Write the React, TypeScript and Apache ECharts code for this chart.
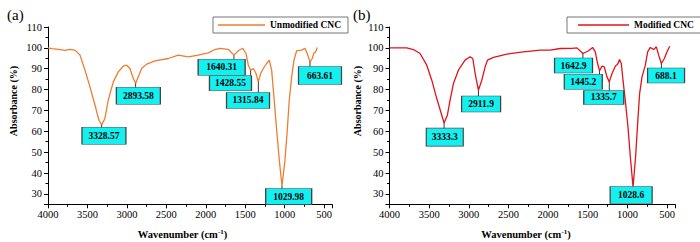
import React, { useEffect, useRef } from "react";
import * as echarts from "echarts";

const FONT = "Liberation Serif";

// Spectrum (a) Unmodified CNC
const wnA = [4000, 3950, 3869, 3785, 3721, 3658, 3594, 3531, 3468, 3404, 3354, 3320, 3278, 3236, 3172, 3109, 3046, 3003, 2961, 2919, 2889, 2856, 2813, 2749, 2644, 2475, 2349, 2222, 2095, 1968, 1883, 1820, 1715, 1643, 1588, 1532, 1490, 1461, 1431, 1398, 1363, 1334, 1304, 1271, 1229, 1195, 1165, 1136, 1101, 1068, 1034, 996, 967, 942, 911, 882, 848, 785, 743, 714, 679, 650, 629, 607, 587];
const absA = [100, 99.6, 99.3, 98.8, 99.3, 98.9, 96.5, 89.3, 81.3, 72.5, 65.3, 63, 66.2, 75, 83.7, 88.5, 91.2, 91.7, 90.1, 85.3, 82.9, 86.1, 90.1, 92.2, 93.8, 94.9, 96.5, 95.7, 96.5, 97.6, 99.2, 99.8, 99.3, 96.5, 98.6, 99.8, 97.3, 91.7, 89.3, 90.1, 87.7, 83.7, 87.7, 90.1, 92.5, 94.1, 89.3, 76.5, 60.5, 46.2, 33.8, 46.2, 60.5, 74.9, 86.1, 94.1, 98.6, 98.9, 99.8, 97.3, 93.3, 94.9, 97.6, 98.1, 100.2];

// Spectrum (b) Modified CNC
const wnB = [4000, 3900, 3783, 3699, 3615, 3530, 3467, 3404, 3341, 3312, 3270, 3236, 3194, 3131, 3047, 2984, 2950, 2920, 2879, 2836, 2794, 2765, 2689, 2520, 2311, 2100, 1973, 1847, 1700, 1636, 1561, 1490, 1439, 1405, 1376, 1351, 1321, 1292, 1258, 1229, 1194, 1153, 1124, 1099, 1077, 1056, 1027, 993, 963, 929, 897, 871, 846, 816, 774, 745, 711, 669, 635, 606, 572, 534, 500, 467];
const absB = [100, 100, 100, 99.2, 97.3, 91.7, 84.5, 75.7, 67.7, 64, 67.7, 74.9, 82.9, 89.3, 94.1, 95.7, 94.9, 87.7, 79.7, 84.5, 90.9, 94.1, 95.4, 97, 98.1, 98.9, 98.9, 99.7, 99.8, 100, 97.3, 98.6, 100.2, 98.1, 92.5, 89, 91.2, 90.9, 86.1, 83.7, 87.7, 91.2, 92.2, 94.4, 92.5, 84.5, 74.9, 62.1, 47.7, 33.3, 47.7, 63.8, 78.1, 86.1, 91.7, 98.1, 100.2, 99.2, 100.5, 96.5, 92.5, 94.9, 98.1, 100.8];

// Peak annotations
const annTextA = ["3328.57", "2893.58", "1640.31", "1428.55", "1315.84", "663.61", "1029.98"];
const annWnA = [3320, 2889, 1643, 1431, 1334, 679, 1034];
const annAbsA = [63, 82.9, 96.5, 89.3, 83.7, 93.3, 33.8];
const annTextB = ["3333.3", "2911.9", "1642.9", "1445.2", "1335.7", "688.1", "1028.6"];
const annWnB = [3312, 2879, 1561, 1351, 1229, 572, 929];
const annAbsB = [64, 79.7, 97.3, 89, 83.7, 92.5, 33.3];

// Layout of annotation boxes: [dx, dy, w, h] in pixels
const boxA = [
  [2.3, 10.7, 44, 17],
  [2.7, 12.2, 44, 17],
  [-12.3, 12, 47, 16],
  [-20.2, 13.1, 42, 15],
  [-10.3, 18.6, 43, 16],
  [10, 13.7, 43, 18],
  [6.7, 10.6, 46, 16],
];
const boxB = [
  [0.7, 14.2, 37, 18],
  [2.7, 13.8, 39, 16],
  [-9.4, 12.1, 38, 15],
  [-16.3, 11, 38, 15],
  [-5.5, 15.6, 40, 14],
  [4.7, 12, 37, 15],
  [-1.9, 8, 42, 17],
];

function buildMarks(texts: string[], wns: number[], vals: number[], boxes: number[][]) {
  const leaders: any[] = [];
  const labels: any[] = [];
  texts.forEach((t, i) => {
    const [dx, dy, w, h] = boxes[i];
    const L = dy - h / 2 + 1;
    if (L > 0.5) {
      leaders.push({
        coord: [wns[i], vals[i]],
        symbol: "rect",
        symbolSize: [0.9, L],
        symbolOffset: [0, L / 2],
        itemStyle: { color: "#222" },
        label: { show: false },
      });
    }
    labels.push({
      coord: [wns[i], vals[i]],
      symbol: "rect",
      symbolSize: [w, h],
      symbolOffset: [dx, dy],
      itemStyle: { color: "#14f0f0", borderColor: "#444", borderWidth: 0.8 },
      label: {
        show: true,
        position: "inside",
        formatter: t,
        color: "#000",
        fontWeight: "bold",
        fontSize: 9.5,
        fontFamily: FONT,
      },
    });
  });
  return [...leaders, ...labels];
}

export default function App() {
  const ref = useRef<HTMLDivElement>(null);
  useEffect(() => {
    document.body.style.margin = "0";
    if (!ref.current) return;
    const chart = echarts.init(ref.current, undefined, { renderer: "svg" });
    const axisX = (i: number) => ({
      gridIndex: i,
      type: "value",
      inverse: true,
      min: 400,
      max: 4000,
      splitNumber: 7,
      axisLine: { show: true, lineStyle: { color: "#000", width: 1 } },
      axisTick: { show: true, length: 4, lineStyle: { color: "#000" } },
      minorTick: { show: true, splitNumber: 2, length: 2.5, lineStyle: { color: "#000" } },
      splitLine: { show: false },
      axisLabel: {
        color: "#000",
        fontSize: 10.5,
        fontFamily: FONT,
        margin: 5,
        formatter: (v: number) => (v % 500 === 0 ? String(v) : ""),
      },
    });
    const axisY = (i: number) => ({
      gridIndex: i,
      type: "value",
      min: 25,
      max: 110,
      splitNumber: 8,
      axisLine: { show: true, lineStyle: { color: "#000", width: 1 } },
      axisTick: { show: true, length: 4, lineStyle: { color: "#000" } },
      minorTick: { show: true, splitNumber: 2, length: 2.5, lineStyle: { color: "#000" } },
      splitLine: { show: false },
      axisLabel: {
        color: "#000",
        fontSize: 10.5,
        fontFamily: FONT,
        margin: 6,
        formatter: (v: number) => (v % 10 === 0 ? String(v) : ""),
      },
    });
    const legendBase = {
      orient: "horizontal",
      icon: "rect",
      itemHeight: 1.6,
      borderColor: "#777",
      borderWidth: 1,
      selectedMode: false,
      textStyle: { fontWeight: "bold", fontSize: 9.5, color: "#000", fontFamily: FONT },
    };
    const xTitle = (cx: number) => ({
      type: "text",
      x: cx,
      y: 234,
      style: {
        text: "{b|Wavenumber (cm}{s|-1}{b|)}",
        align: "center",
        verticalAlign: "middle",
        rich: {
          b: { fontFamily: FONT, fontWeight: "bold", fontSize: 10.5, fill: "#000", verticalAlign: "bottom", lineHeight: 12 },
          s: { fontFamily: FONT, fontWeight: "bold", fontSize: 7, fill: "#000", verticalAlign: "top", lineHeight: 12 },
        },
      },
    });
    const yTitle = (cx: number) => ({
      type: "text",
      x: cx,
      y: 101,
      rotation: Math.PI / 2,
      style: {
        text: "Absorbance (%)",
        align: "center",
        verticalAlign: "middle",
        fontFamily: FONT,
        fontWeight: "bold",
        fontSize: 10,
        fill: "#000",
      },
    });
    chart.setOption({
      animation: false,
      textStyle: { fontFamily: FONT },
      grid: [
        { left: 48, top: 27, width: 284, height: 177.3 },
        { left: 389.5, top: 27, width: 285.5, height: 177.3 },
      ],
      xAxis: [axisX(0), axisX(1)],
      yAxis: [axisY(0), axisY(1)],
      legend: [
        { ...legendBase, data: ["Unmodified CNC"], left: 213, top: 17, itemWidth: 47, padding: [3, 7, 3, 5] },
        { ...legendBase, data: ["Modified CNC"], left: 567, top: 17, itemWidth: 51, padding: [3, 7, 3, 11] },
      ],
      graphic: [
        { type: "text", left: 7, top: 7, style: { text: "(a)", fontFamily: FONT, fontSize: 15, fill: "#000" } },
        { type: "text", left: 353, top: 7, style: { text: "(b)", fontFamily: FONT, fontSize: 15, fill: "#000" } },
        yTitle(13.5),
        yTitle(357),
        xTitle(182.5),
        xTitle(526),
      ],
      series: [
        {
          type: "line",
          name: "Unmodified CNC",
          xAxisIndex: 0,
          yAxisIndex: 0,
          data: wnA.map((w, i) => [w, absA[i]]),
          showSymbol: false,
          symbol: "none",
          lineStyle: { color: "#ED7D31", width: 1.3 },
          itemStyle: { color: "#ED7D31" },
          markPoint: { silent: true, data: buildMarks(annTextA, annWnA, annAbsA, boxA) },
        },
        {
          type: "line",
          name: "Modified CNC",
          xAxisIndex: 1,
          yAxisIndex: 1,
          data: wnB.map((w, i) => [w, absB[i]]),
          showSymbol: false,
          symbol: "none",
          lineStyle: { color: "#E3121B", width: 1.3 },
          itemStyle: { color: "#E3121B" },
          markPoint: { silent: true, data: buildMarks(annTextB, annWnB, annAbsB, boxB) },
        },
      ],
    });
    return () => chart.dispose();
  }, []);
  return <div ref={ref} style={{ width: 700, height: 242 }} />;
}
